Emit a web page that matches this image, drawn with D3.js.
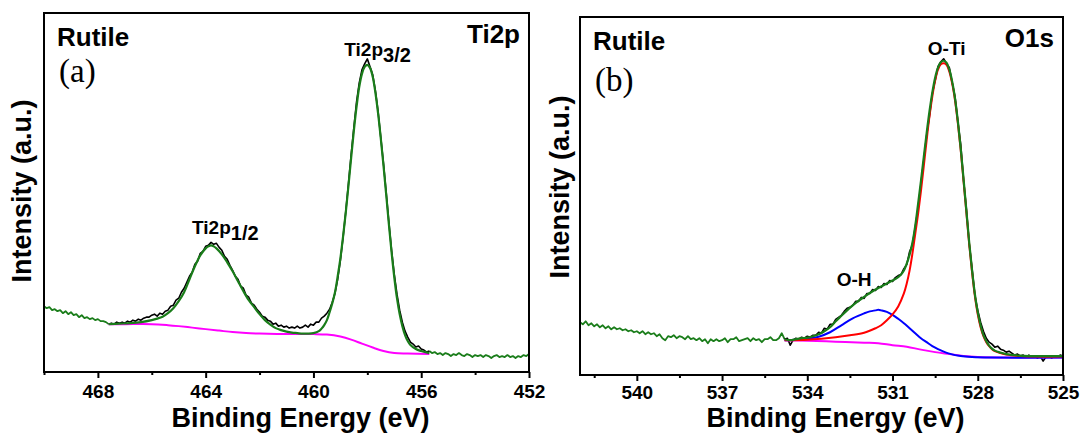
<!DOCTYPE html>
<html>
<head>
<meta charset="utf-8">
<script src="https://cdn.jsdelivr.net/npm/d3@7"></script>
<style>
  html, body { margin: 0; padding: 0; background: #fff; }
  svg { display: block; }
  text { font-family: "Liberation Sans", Arial, sans-serif; font-weight: bold; fill: #000; }
  text.serif { font-family: "Liberation Serif", "Times New Roman", serif; font-weight: normal; }
</style>
</head>
<body>
<svg id="chart" width="1086" height="439"></svg>
<script>
// ---------- Ti 2p panel ----------
const ti2pTicks = [468, 464, 460, 456, 452];
const ti2pMinorTicks = [470, 466, 462, 458, 454];
const ti2pStart = 470.0;          // first energy of the raw scan (eV), step 0.1 eV toward lower BE
const ti2pFitRange = [455.7, 467.6];
// raw counts (a.u.), 470.0 -> 452.0 eV
const ti2pRaw = [
  66, 64, 65, 62, 63, 61, 62, 59, 61, 58,
  60, 57, 58, 55, 57, 54, 55, 53, 54, 52,
  53, 51, 51, 50, 48, 49, 48, 50, 49, 50,
  49, 51, 50, 52, 51, 53, 52, 54, 55, 55,
  57, 58, 56, 59, 58, 61, 62, 66, 67, 72,
  74, 80, 84, 90, 96, 100, 108, 111, 119, 121,
  126, 127, 130, 128, 129, 125, 122, 116, 113, 107,
  102, 96, 93, 86, 84, 77, 75, 69, 67, 63,
  60, 56, 55, 52, 51, 48, 49, 46, 47, 45,
  46, 44, 45, 44, 46, 44, 45, 47, 45, 48,
  47, 50, 50, 54, 56, 59, 63, 70, 79, 93,
  112, 135, 161, 189, 218, 245, 271, 290, 303, 309,
  314, 306, 298, 282, 261, 235, 209, 180, 150, 122,
  98, 78, 62, 50, 41, 35, 30, 28, 25, 26,
  23, 22, 20, 21, 19, 20, 18, 19, 17, 19,
  18, 16, 18, 17, 19, 17, 16, 18, 17, 15,
  17, 16, 17, 15, 17, 16, 14, 16, 17, 15,
  16, 15, 17, 15, 16, 14, 16, 15, 17, 16,
  18
];
// fitted envelope [eV, a.u.]
const ti2pEnvelope = [
  [467.6, 48], [467.2, 48.5], [466.8, 49], [466.4, 50], [466.0, 52], [465.8, 53.5], [465.6, 55.5],
  [465.4, 59], [465.2, 64], [465.0, 71], [464.8, 80], [464.6, 93], [464.4, 106], [464.2, 117],
  [464.0, 124], [463.9, 126], [463.8, 127], [463.7, 126], [463.6, 124], [463.4, 118], [463.2, 110],
  [463.0, 101], [462.8, 91], [462.6, 81], [462.4, 72], [462.2, 65], [462.0, 58], [461.8, 52],
  [461.6, 47.5], [461.4, 44], [461.2, 42], [461.0, 40.5], [460.8, 39.5], [460.6, 39], [460.4, 38.5],
  [460.2, 38.5], [460.0, 39], [459.8, 41], [459.7, 43.5], [459.6, 47], [459.5, 52], [459.4, 60],
  [459.3, 69], [459.2, 80], [459.1, 96], [459.0, 114], [458.9, 136], [458.8, 160], [458.7, 187],
  [458.6, 215], [458.5, 242], [458.4, 266], [458.3, 286], [458.2, 299], [458.1, 306], [458.0, 308],
  [457.9, 305], [457.8, 296], [457.7, 280], [457.6, 259], [457.5, 234], [457.4, 207], [457.3, 178],
  [457.2, 148], [457.1, 120], [457.0, 95], [456.9, 74], [456.8, 58], [456.7, 46], [456.6, 37],
  [456.5, 31], [456.4, 27], [456.2, 23], [456.0, 21], [455.7, 19]
];
// Shirley-type background [eV, a.u.]
const ti2pBackground = [
  [467.6, 48], [467.0, 48], [466.0, 48], [465.4, 47], [465.0, 46], [464.5, 44.5], [464.0, 43],
  [463.5, 41.5], [463.0, 40], [462.5, 39], [462.0, 38.5], [461.0, 38], [460.0, 38], [459.5, 37.5],
  [459.0, 35.5], [458.6, 32.5], [458.2, 28.5], [457.8, 24.5], [457.4, 21], [457.0, 19],
  [456.5, 18.5], [455.7, 18]
];

// ---------- O 1s panel ----------
const o1sTicks = [540, 537, 534, 531, 528, 525];
const o1sMinorTicks = [541.5, 538.5, 535.5, 532.5, 529.5, 526.5];
const o1sStart = 542.0;
const o1sFitRange = [525.0, 534.8];
// raw counts (a.u.), 542.0 -> 525.0 eV
const o1sRaw = [
  53, 51, 54, 50, 52, 49, 51, 48, 50, 47,
  49, 46, 48, 46, 47, 45, 46, 44, 45, 43,
  44, 42, 44, 41, 43, 41, 42, 39, 41, 37,
  35, 39, 38, 40, 37, 39, 38, 36, 39, 36,
  37, 35, 37, 34, 36, 32, 36, 34, 36, 34,
  35, 37, 33, 36, 36, 38, 34, 35, 36, 37,
  34, 37, 35, 36, 33, 36, 36, 38, 35, 35,
  37, 42, 36,
  37, 30, 35, 37, 36, 38, 37, 39, 38, 40,
  40, 43, 42, 47, 46, 51, 51, 56, 58, 60,
  64, 67, 68, 70, 74, 74, 78, 77, 82, 82,
  86, 85, 89, 88, 92, 91, 95, 94, 98, 100,
  101, 107, 111, 124, 131, 149, 168, 192, 216, 241,
  260, 283, 296, 310, 315, 318, 313, 309, 294, 280,
  255, 232, 196, 167, 132, 107, 80, 65, 53, 44,
  37, 33, 31, 28, 29, 26, 25, 23, 24, 22,
  20, 21, 19, 20, 18, 20, 18, 19, 17, 19,
  14, 18, 19, 17, 19, 18, 20, 19
];
const o1sEnvelope = [
  [534.8, 36], [534.6, 35], [534.4, 36], [534.2, 37], [534.0, 37.5], [533.8, 39], [533.6, 41],
  [533.4, 44], [533.2, 48], [533.0, 54], [532.8, 59.5], [532.6, 65], [532.4, 70], [532.2, 74.5],
  [532.0, 78.5], [531.8, 82.5], [531.6, 86], [531.4, 89], [531.2, 92], [531.0, 95], [530.8, 98.5],
  [530.7, 101], [530.6, 105], [530.5, 112], [530.4, 121], [530.3, 133], [530.2, 150], [530.1, 172],
  [530.0, 195], [529.9, 219], [529.8, 243], [529.7, 265], [529.6, 284], [529.5, 299], [529.4, 309],
  [529.3, 314.5], [529.2, 316], [529.1, 314], [529.0, 307], [528.9, 295], [528.8, 278], [528.7, 255],
  [528.6, 228], [528.5, 197], [528.4, 165], [528.3, 133], [528.2, 105], [528.1, 81], [528.0, 63],
  [527.9, 50], [527.8, 40], [527.7, 34], [527.6, 29.5], [527.5, 26.5], [527.4, 24.5], [527.2, 22.5],
  [527.0, 21], [526.5, 19.5], [526.0, 19], [525.0, 19]
];
// O-Ti (lattice oxygen) component
const o1sLattice = [
  [534.8, 35], [534.0, 35.5], [533.5, 36.5], [533.0, 38], [532.5, 40], [532.0, 42.5], [531.6, 47],
  [531.4, 50], [531.2, 55], [531.0, 61], [530.8, 69], [530.6, 82], [530.5, 92], [530.4, 105],
  [530.3, 122], [530.2, 142], [530.1, 162], [530.0, 185], [529.9, 210], [529.8, 236], [529.7, 260],
  [529.6, 280], [529.5, 296], [529.4, 307], [529.3, 312.5], [529.2, 313.5], [529.1, 312], [529.0, 305],
  [528.9, 293], [528.8, 276], [528.7, 253], [528.6, 226], [528.5, 195], [528.4, 163], [528.3, 131],
  [528.2, 103], [528.1, 79], [528.0, 61], [527.9, 48], [527.8, 39], [527.7, 33], [527.6, 29],
  [527.5, 26], [527.4, 24], [527.2, 22], [527.0, 20.5], [526.5, 19], [526.0, 18.5], [525.0, 18.5]
];
// O-H (hydroxyl) component
const o1sHydroxyl = [
  [534.8, 35], [534.4, 35.5], [534.0, 36.5], [533.6, 38.5], [533.2, 43], [532.8, 50], [532.4, 57],
  [532.0, 62], [531.8, 64], [531.6, 65], [531.5, 65.5], [531.4, 65], [531.2, 63.5], [531.0, 60.5],
  [530.8, 56.5], [530.6, 52], [530.4, 47], [530.2, 42], [530.0, 37], [529.8, 33], [529.6, 29],
  [529.4, 26], [529.2, 23.5], [529.0, 21.5], [528.6, 19], [528.2, 18], [527.5, 17.5], [525.0, 17.5]
];
const o1sBackground = [
  [534.8, 35], [534.0, 34.5], [533.0, 33.5], [532.0, 32.5], [531.5, 32], [531.0, 30], [530.5, 28.5],
  [530.0, 25.5], [529.5, 23], [529.0, 21], [528.5, 19], [528.0, 18], [527.0, 17.5], [526.0, 17.5],
  [525.0, 17.5]
];

const stepEV = 0.1;
const COLORS = { raw: "#000", fit: "#1a7d1a", bg: "#ff00ff", lattice: "#ff0000", hydroxyl: "#0000ff" };

const svg = d3.select("#chart");
svg.append("rect").attr("width", 1086).attr("height", 439).attr("fill", "#fff");

function drawPanel(p) {
  const x = d3.scaleLinear().domain(p.domain).range([p.left, p.right]);
  const y = d3.scaleLinear().domain([0, 360]).range([p.bottom, p.top]);
  const g = svg.append("g");
  const line = d3.line().x(d => x(d[0])).y(d => y(d[1]));
  const smooth = d3.line().x(d => x(d[0])).y(d => y(d[1])).curve(d3.curveCatmullRom.alpha(0.5));

  const raw = p.raw.map((v, i) => [+(p.start - i * stepEV).toFixed(1), v]);
  const eps = 1e-6;
  const hi = raw.filter(d => d[0] >= p.fit[1] - eps);
  const lo = raw.filter(d => d[0] <= p.fit[0] + eps);
  const mid = raw.filter(d => d[0] >= p.fit[0] - eps && d[0] <= p.fit[1] + eps);

  [hi, lo].filter(s => s.length > 1).forEach(s =>
    g.append("path").attr("d", line(s)).attr("fill", "none")
      .attr("stroke", COLORS.fit).attr("stroke-width", 1.8).attr("stroke-linejoin", "round"));
  g.append("path").attr("d", line(mid)).attr("fill", "none")
    .attr("stroke", COLORS.raw).attr("stroke-width", 1.6).attr("stroke-linejoin", "round");

  p.curves.forEach(c =>
    g.append("path").attr("d", smooth(c.data)).attr("fill", "none")
      .attr("stroke", c.color).attr("stroke-width", c.width));

  // frame
  g.append("rect").attr("x", p.left).attr("y", p.top)
    .attr("width", p.right - p.left).attr("height", p.bottom - p.top)
    .attr("fill", "none").attr("stroke", "#000").attr("stroke-width", 2);

  // axis ticks
  const major = g.append("g").attr("transform", `translate(0,${p.bottom})`)
    .call(d3.axisBottom(x).tickValues(p.ticks).tickSize(6).tickSizeOuter(0).tickFormat(d3.format("d")));
  major.select(".domain").remove();
  major.selectAll("line").attr("stroke-width", 2);
  major.selectAll("text").attr("y", p.labelOffset).attr("dy", 0)
    .style("font-size", "19px").style("font-family", '"Liberation Sans", Arial, sans-serif')
    .style("font-weight", "bold");
  const minor = g.append("g").attr("transform", `translate(0,${p.bottom})`)
    .call(d3.axisBottom(x).tickValues(p.minor).tickSize(3).tickSizeOuter(0).tickFormat(""));
  minor.select(".domain").remove();
  minor.selectAll("line").attr("stroke-width", 2);

  // axis titles
  g.append("text").attr("x", (p.left + p.right) / 2 + 14).attr("y", 427)
    .attr("text-anchor", "middle").style("font-size", "27px").text("Binding Energy (eV)");
  g.append("text").attr("transform", `translate(${p.yTitleX},${p.yTitleY}) rotate(-90)`)
    .attr("text-anchor", "middle").style("font-size", "27px").text("Intensity (a.u.)");

  // panel captions
  g.append("text").attr("x", p.left + 13).attr("y", p.top + 33).style("font-size", "26px").text("Rutile");
  g.append("text").attr("x", p.right - 9).attr("y", p.top + 30).attr("text-anchor", "end")
    .style("font-size", "26px").text(p.core);
  g.append("text").attr("class", "serif").attr("x", p.left + p.tagDx).attr("y", p.top + p.tagDy)
    .style("font-size", "33px").text(p.tag);

  p.peaks.forEach(pk => {
    const t = g.append("text").attr("x", x(pk.e) + pk.dx).attr("y", y(pk.v) + pk.dy)
      .attr("text-anchor", pk.anchor || "start").style("font-size", "19px").text(pk.name);
    if (pk.sub) t.append("tspan").attr("dy", 6).style("font-size", "20px").text(pk.sub);
  });
}

drawPanel({
  domain: [470, 452], left: 44, right: 529, top: 13, bottom: 372,
  start: ti2pStart, raw: ti2pRaw, fit: ti2pFitRange,
  ticks: ti2pTicks, minor: ti2pMinorTicks, labelOffset: 26,
  yTitleX: 31, yTitleY: 191, core: "Ti2p", tag: "(a)", tagDx: 15, tagDy: 69,
  curves: [
    { data: ti2pBackground, color: COLORS.bg, width: 2 },
    { data: ti2pEnvelope, color: COLORS.fit, width: 2.2 }
  ],
  peaks: [
    { name: "Ti2p", sub: "3/2", e: 458.0, v: 314, dx: -23, dy: -3 },
    { name: "Ti2p", sub: "1/2", e: 463.8, v: 130, dx: -19, dy: -8 }
  ]
});

drawPanel({
  domain: [542, 525], left: 580, right: 1063, top: 17, bottom: 375,
  start: o1sStart, raw: o1sRaw, fit: o1sFitRange,
  ticks: o1sTicks, minor: o1sMinorTicks, labelOffset: 24,
  yTitleX: 569, yTitleY: 187, core: "O1s", tag: "(b)", tagDx: 15, tagDy: 74,
  curves: [
    { data: o1sBackground, color: COLORS.bg, width: 2 },
    { data: o1sHydroxyl, color: COLORS.hydroxyl, width: 2 },
    { data: o1sLattice, color: COLORS.lattice, width: 2 },
    { data: o1sEnvelope, color: COLORS.fit, width: 2.2 }
  ],
  peaks: [
    { name: "O-Ti", e: 529.2, v: 316, dx: 3, dy: -6, anchor: "middle" },
    { name: "O-H", e: 532.35, v: 90, dx: 0, dy: 0, anchor: "middle" }
  ]
});
</script>
</body>
</html>
